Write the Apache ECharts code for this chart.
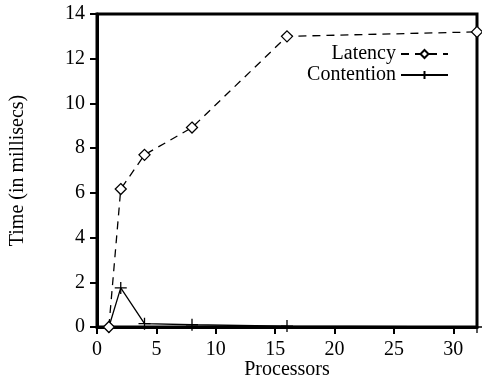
<!DOCTYPE html>
<html><head><meta charset="utf-8">
<script src="https://cdn.jsdelivr.net/npm/echarts@6/dist/echarts.min.js"></script>
<style>html,body{margin:0;padding:0;background:#fff}#c{width:482px;height:383px}</style>
</head><body><div id="c"></div>
<script>
const processors = [1, 2, 4, 8, 16, 32];
const latency = [0, 6.17, 7.7, 8.92, 13.0, 13.2];
const contention = [0, 1.75, 0.15, 0.1, 0.04, 0];
const xTicks = [0, 5, 10, 15, 20, 25, 30];
const yTicks = [0, 2, 4, 6, 8, 10, 12, 14];

const font = 'Liberation Serif';
const fs = 20;
const chart = echarts.init(document.getElementById('c'), null, {renderer: 'canvas'});
chart.setOption({
  animation: false,
  backgroundColor: '#fff',
  textStyle: {fontFamily: font, color: '#000'},
  grid: {left: 97, right: 5, top: 14, bottom: 56, show: true, borderColor: '#000', borderWidth: 3,
    containLabel: false, outerBoundsMode: 'none'},
  legend: {
    orient: 'vertical', right: 28, top: 39, align: 'right', itemWidth: 47, itemHeight: 10, itemGap: 1,
    textStyle: {fontFamily: font, fontSize: fs, color: '#000'},
    data: ['Latency', 'Contention']
  },
  xAxis: {
    type: 'value', min: 0, max: 32, interval: 5,
    name: 'Processors', nameLocation: 'middle', nameGap: 33, nameMoveOverlap: false,
    nameTextStyle: {fontFamily: font, fontSize: fs, color: '#000'},
    axisLine: {show: true, lineStyle: {color: '#000', width: 3}},
    axisTick: {show: true, inside: false, length: 7, lineStyle: {color: '#000', width: 2}},
    axisLabel: {fontFamily: font, fontSize: fs, color: '#000', margin: 13, showMaxLabel: false,
      formatter: v => xTicks.includes(v) ? String(v) : ''},
    splitLine: {show: false}
  },
  yAxis: {
    type: 'value', min: 0, max: 14, interval: 2,
    name: 'Time (in millisecs)', nameLocation: 'middle', nameGap: 69,
    nameTextStyle: {fontFamily: font, fontSize: fs, color: '#000'},
    axisLine: {show: true, lineStyle: {color: '#000', width: 3}},
    axisTick: {show: true, inside: false, length: 7, lineStyle: {color: '#000', width: 2}},
    axisLabel: {fontFamily: font, fontSize: fs, color: '#000', margin: 12,
      formatter: v => yTicks.includes(v) ? String(v) : ''},
    splitLine: {show: false}
  },
  series: [
    {
      name: 'Latency', type: 'line',
      data: processors.map((p, i) => [p, latency[i]]),
      symbol: 'path://M0,-1L1,0L0,1L-1,0Z', symbolSize: 11, showSymbol: true,
      lineStyle: {color: '#000', width: 1.3, type: [8, 6]},
      itemStyle: {color: '#fff', borderColor: '#000', borderWidth: 1.3},
      z: 3
    },
    {
      name: 'Contention', type: 'line',
      data: processors.map((p, i) => [p, contention[i]]),
      symbol: 'path://M-1,0L1,0M0,-1L0,1', symbolSize: 12, showSymbol: true,
      lineStyle: {color: '#000', width: 1.3},
      itemStyle: {color: '#000', borderColor: '#000', borderWidth: 1.3},
      z: 2
    }
  ]
});
</script></body></html>
